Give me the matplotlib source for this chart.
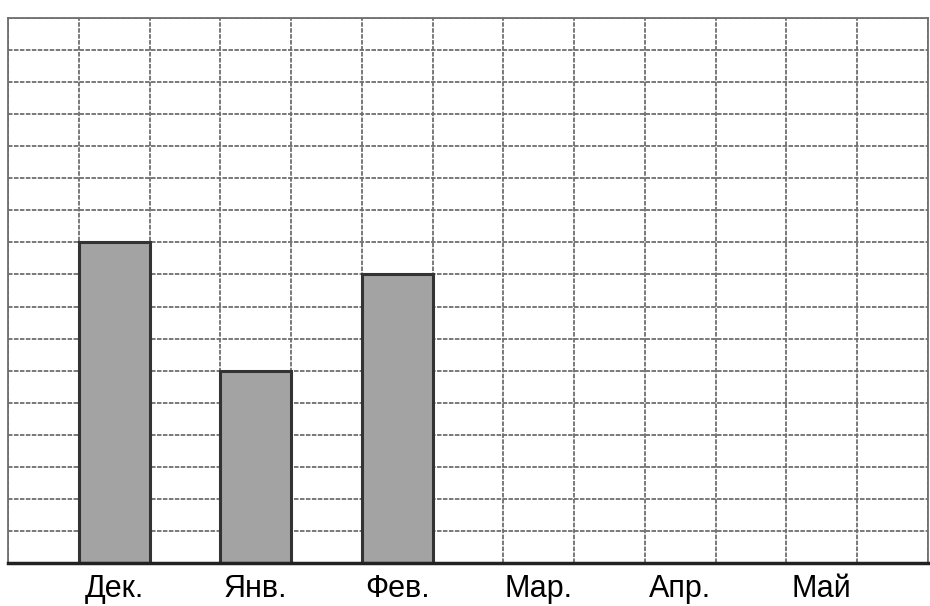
import matplotlib
matplotlib.use('Agg')
import matplotlib.pyplot as plt
import numpy as np

months = ['Дек.', 'Янв.', 'Фев.', 'Мар.', 'Апр.', 'Май']
values = [10, 6, 9]          # only first three months filled in
n_cols = 13
n_rows = 17

plt.rcParams['font.family'] = ['Liberation Sans', 'DejaVu Sans']

fig = plt.figure(figsize=(9.3, 6.06), dpi=100)
ax = fig.add_axes([8/930, 43/606, 920/930, 545/606])

xpos = 1.5 + 2*np.arange(len(months))
ax.bar(xpos[:len(values)], values, width=1.0, color='#a3a3a3',
       edgecolor='#333333', linewidth=2.2, zorder=3)

ax.set_xlim(0, n_cols)
ax.set_ylim(0, n_rows)
ax.set_xticks(np.arange(n_cols + 1), minor=True)
ax.set_yticks(np.arange(n_rows + 1), minor=True)
ax.grid(which='minor', color='#6e6e6e', linewidth=1.3, linestyle=(0, (2.5, 0.8)))
ax.set_xticks(xpos)
ax.set_xticklabels(months, fontsize=22)
ax.set_yticks([])
ax.tick_params(axis='x', which='both', length=0, pad=8)
ax.tick_params(axis='y', which='both', length=0)

for s in ['left', 'right', 'top']:
    ax.spines[s].set_color('#6e6e6e')
    ax.spines[s].set_linewidth(1.3)
ax.spines['bottom'].set_color('#222222')
ax.spines['bottom'].set_linewidth(2.5)
ax.spines['bottom'].set_zorder(4)

plt.savefig('out.png', dpi=100)
